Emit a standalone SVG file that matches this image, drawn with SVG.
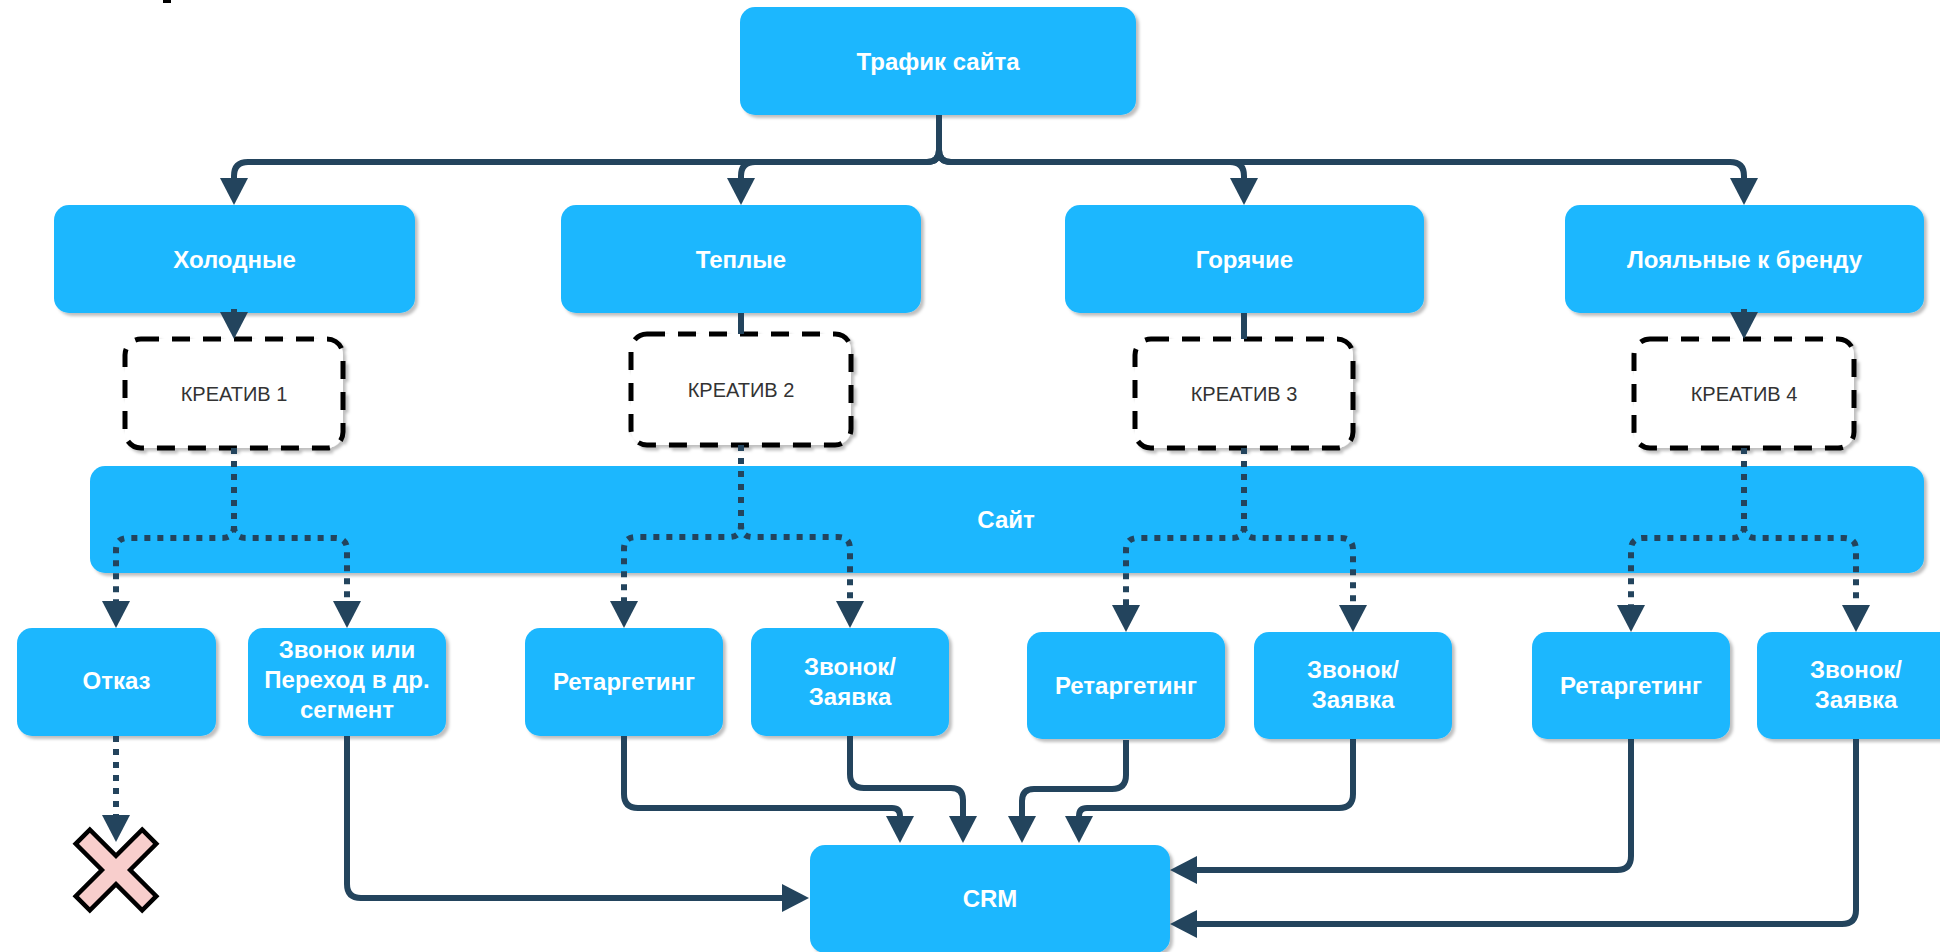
<svg xmlns="http://www.w3.org/2000/svg" width="1940" height="952" viewBox="0 0 1940 952">
<defs>
<filter id="sh" x="-10%" y="-10%" width="120%" height="130%">
<feDropShadow dx="3" dy="3" stdDeviation="1.5" flood-color="#000" flood-opacity="0.25"/>
</filter>
<marker id="ah" viewBox="0 0 27 28" markerWidth="27" markerHeight="28" refX="0" refY="14" orient="auto" markerUnits="userSpaceOnUse">
<path d="M0,0 L27,14 L0,28 z" fill="#23445d"/>
</marker>
<style>
.box{fill:#1cb7fe;filter:url(#sh)}
.cr{fill:#fff;stroke:#000;stroke-width:5;stroke-dasharray:18 13;filter:url(#sh)}
.t{font-family:"Liberation Sans",Arial,sans-serif;font-weight:bold;font-size:24px;fill:#fff;text-anchor:middle}
.ct{font-family:"Liberation Sans",Arial,sans-serif;font-size:20px;fill:#333;text-anchor:middle}
.ln{fill:none;stroke:#23445d;stroke-width:6}
.dl{fill:none;stroke:#23445d;stroke-width:6;stroke-dasharray:6 7}
.ar{marker-end:url(#ah)}
</style>
</defs>
<rect x="163" y="0" width="8" height="3" fill="#000"/>

<g id="traffic"><rect class="box" x="740" y="7" width="396" height="108" rx="15"/><text class="t" x="938" y="70">Трафик сайта</text></g>

<g id="cold"><rect class="box" x="54" y="205" width="361" height="108" rx="15"/><text class="t" x="234.5" y="268">Холодные</text></g>
<g id="warm"><rect class="box" x="561" y="205" width="360" height="108" rx="15"/><text class="t" x="741" y="268">Теплые</text></g>
<g id="hot"><rect class="box" x="1065" y="205" width="359" height="108" rx="15"/><text class="t" x="1244.5" y="268">Горячие</text></g>
<g id="loyal"><rect class="box" x="1565" y="205" width="359" height="108" rx="15"/><text class="t" x="1744.5" y="268">Лояльные к бренду</text></g>

<g id="cr1"><rect class="cr" x="125" y="339" width="218" height="109" rx="16"/><text class="ct" x="234" y="401">КРЕАТИВ 1</text></g>
<g id="cr2"><rect class="cr" x="631" y="334" width="220" height="111" rx="16"/><text class="ct" x="741" y="397">КРЕАТИВ 2</text></g>
<g id="cr3"><rect class="cr" x="1135" y="339" width="218" height="109" rx="16"/><text class="ct" x="1244" y="401">КРЕАТИВ 3</text></g>
<g id="cr4"><rect class="cr" x="1634" y="339" width="220" height="109" rx="16"/><text class="ct" x="1744" y="401">КРЕАТИВ 4</text></g>

<g id="site"><rect class="box" x="90" y="466" width="1834" height="107" rx="15"/><text class="t" x="1006" y="528">Сайт</text></g>

<g id="refuse"><rect class="box" x="17" y="628" width="199" height="108" rx="15"/><text class="t" x="116.5" y="689">Отказ</text></g>
<g id="call-or"><rect class="box" x="248" y="628" width="198" height="108" rx="15"/><text class="t" x="347" y="658">Звонок или</text><text class="t" x="347" y="688">Переход в др.</text><text class="t" x="347" y="718">сегмент</text></g>
<g id="ret1"><rect class="box" x="525" y="628" width="198" height="108" rx="15"/><text class="t" x="624" y="690">Ретаргетинг</text></g>
<g id="call1"><rect class="box" x="751" y="628" width="198" height="108" rx="15"/><text class="t" x="850" y="675">Звонок/</text><text class="t" x="850" y="705">Заявка</text></g>
<g id="ret2"><rect class="box" x="1027" y="632" width="198" height="107" rx="15"/><text class="t" x="1126" y="694">Ретаргетинг</text></g>
<g id="call2"><rect class="box" x="1254" y="632" width="198" height="107" rx="15"/><text class="t" x="1353" y="678">Звонок/</text><text class="t" x="1353" y="708">Заявка</text></g>
<g id="ret3"><rect class="box" x="1532" y="632" width="198" height="107" rx="15"/><text class="t" x="1631" y="694">Ретаргетинг</text></g>
<g id="call3"><rect class="box" x="1757" y="632" width="198" height="107" rx="15"/><text class="t" x="1856" y="678">Звонок/</text><text class="t" x="1856" y="708">Заявка</text></g>

<g id="crm"><rect class="box" x="810" y="845" width="360" height="108" rx="15"/><text class="t" x="990" y="907">CRM</text></g>

<g id="cross"><polygon transform="translate(116,870) rotate(45)" points="-10,-47 10,-47 10,-10 47,-10 47,10 10,10 10,47 -10,47 -10,10 -47,10 -47,-10 -10,-10" fill="#f8cecc" stroke="#000" stroke-width="4.5"/></g>

<g id="connectors">
<path class="ln ar" d="M939,115 V150 Q939,162 927,162 H248 Q234,162 234,176 V178"/>
<path class="ln ar" d="M939,115 V150 Q939,162 927,162 H755 Q741,162 741,176 V178"/>
<path class="ln ar" d="M939,115 V150 Q939,162 951,162 H1230 Q1244,162 1244,176 V178"/>
<path class="ln ar" d="M939,115 V150 Q939,162 951,162 H1730 Q1744,162 1744,176 V178"/>
<path class="ln ar" d="M234,309 V312"/>
<path class="ln" d="M741,313 V334"/>
<path class="ln" d="M1244,313 V339"/>
<path class="ln ar" d="M1744,309 V312"/>
<path class="dl ar" d="M234,448 V526 Q234,538 222,538 H128 Q116,538 116,550 V601"/>
<path class="dl ar" d="M234,448 V526 Q234,538 246,538 H335 Q347,538 347,550 V601"/>
<path class="dl ar" d="M741,445 V525 Q741,537 729,537 H636 Q624,537 624,549 V601"/>
<path class="dl ar" d="M741,445 V525 Q741,537 753,537 H838 Q850,537 850,549 V601"/>
<path class="dl ar" d="M1244,448 V526 Q1244,538 1232,538 H1138 Q1126,538 1126,550 V605"/>
<path class="dl ar" d="M1244,448 V526 Q1244,538 1256,538 H1341 Q1353,538 1353,550 V605"/>
<path class="dl ar" d="M1744,448 V526 Q1744,538 1732,538 H1643 Q1631,538 1631,550 V605"/>
<path class="dl ar" d="M1744,448 V526 Q1744,538 1756,538 H1844 Q1856,538 1856,550 V605"/>
<path class="dl ar" d="M116,736 V815"/>
<path class="ln ar" d="M347,736 V884 Q347,898 361,898 H782"/>
<path class="ln ar" d="M624,736 V794 Q624,808 638,808 H892 Q900,808 900,816"/>
<path class="ln ar" d="M850,736 V774 Q850,788 864,788 H951 Q963,788 963,800 V816"/>
<path class="ln ar" d="M1126,740 V775 Q1126,789 1112,789 H1034 Q1022,789 1022,801 V816"/>
<path class="ln ar" d="M1353,739 V794 Q1353,808 1339,808 H1087 Q1079,808 1079,816"/>
<path class="ln ar" d="M1631,739 V856 Q1631,870 1617,870 H1197"/>
<path class="ln ar" d="M1856,739 V910 Q1856,924 1842,924 H1197"/>
</g>
</svg>
